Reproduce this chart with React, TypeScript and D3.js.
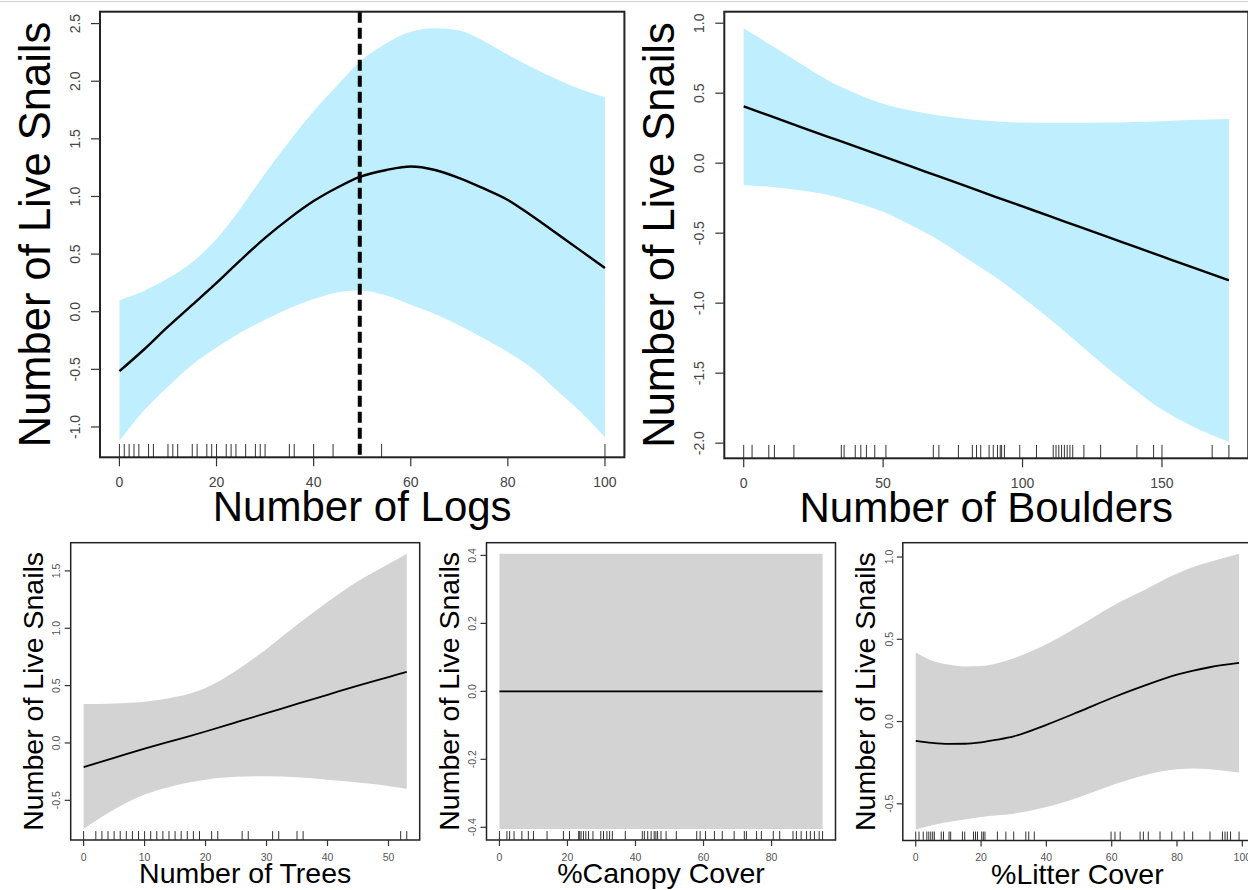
import React from "react";
import * as d3 from "d3";

// ---------- DATA ----------
// Number of Logs
const LOGS_X = [0, 5, 10, 15, 20, 25, 30, 35, 40, 45, 49.5, 55, 60, 65, 70, 75, 80, 85, 90, 95, 100];
const LOGS_FIT = [-0.516, -0.33, -0.13, 0.06, 0.25, 0.45, 0.64, 0.81, 0.96, 1.08, 1.17, 1.23, 1.26, 1.23, 1.16, 1.07, 0.97, 0.83, 0.68, 0.53, 0.38];
const LOGS_UPPER = [0.1, 0.18, 0.29, 0.43, 0.63, 0.9, 1.2, 1.48, 1.74, 1.97, 2.17, 2.33, 2.43, 2.46, 2.44, 2.35, 2.23, 2.12, 2.02, 1.93, 1.86];
const LOGS_LOWER = [-1.12, -0.86, -0.65, -0.46, -0.31, -0.18, -0.07, 0.03, 0.11, 0.17, 0.185, 0.14, 0.06, -0.02, -0.12, -0.23, -0.35, -0.49, -0.68, -0.87, -1.09];
const LOGS_RUG = [0, 1, 2, 3, 4, 6, 7, 10, 11, 12, 15, 16, 18, 19, 20, 22, 23, 24, 26, 28, 29, 30, 35, 36, 40, 44, 54, 100];
const LOGS_THRESHOLD = 49.5;
const LOGS_XTICKS = [0, 20, 40, 60, 80, 100];
const LOGS_YTICKS = [-1, -0.5, 0, 0.5, 1, 1.5, 2, 2.5];

// Number of Boulders
const BOULDERS_X = [0, 10, 20, 30, 40, 50, 60, 70, 80, 90, 100, 110, 120, 130, 140, 150, 160, 174];
const BOULDERS_FIT = [0.405, 0.334, 0.262, 0.19, 0.12, 0.048, -0.023, -0.095, -0.166, -0.238, -0.309, -0.38, -0.452, -0.523, -0.595, -0.666, -0.737, -0.837];
const BOULDERS_UPPER = [0.964, 0.84, 0.716, 0.595, 0.5, 0.425, 0.376, 0.34, 0.316, 0.3, 0.29, 0.288, 0.288, 0.29, 0.295, 0.3, 0.308, 0.316];
const BOULDERS_LOWER = [-0.158, -0.17, -0.194, -0.226, -0.28, -0.347, -0.444, -0.55, -0.68, -0.81, -0.96, -1.117, -1.286, -1.456, -1.614, -1.76, -1.87, -1.99];
const BOULDERS_RUG = [0, 3, 9, 11, 18, 35, 36, 40, 42, 44, 47, 51, 68, 70, 77, 82, 83.5, 85, 88, 89.5, 91, 92, 92.5, 93.5, 99, 105, 111, 112, 113, 114, 115, 116, 117, 118, 122, 128, 141, 147, 150, 168, 174];
const BOULDERS_XTICKS = [0, 50, 100, 150];
const BOULDERS_YTICKS = [-2, -1.5, -1, -0.5, 0, 0.5, 1];

// Number of Trees
const TREES_X = [0, 5, 10, 15, 20, 25, 30, 35, 40, 45, 50, 53];
const TREES_FIT = [-0.21, -0.13, -0.05, 0.025, 0.1, 0.18, 0.26, 0.34, 0.42, 0.5, 0.575, 0.62];
const TREES_UPPER = [0.34, 0.345, 0.36, 0.4, 0.48, 0.63, 0.82, 1.03, 1.23, 1.41, 1.56, 1.65];
const TREES_LOWER = [-0.75, -0.58, -0.45, -0.37, -0.32, -0.295, -0.29, -0.3, -0.32, -0.345, -0.375, -0.4];
const TREES_RUG = [0, 2, 3, 4, 5, 6, 7, 8, 9, 10, 11, 12, 13, 14, 15, 16, 17, 18, 19, 21, 22, 26, 27, 31, 32, 35, 36, 52, 53];
const TREES_XTICKS = [0, 10, 20, 30, 40, 50];
const TREES_YTICKS = [-0.5, 0, 0.5, 1, 1.5];

// %Canopy Cover
const CANOPY_X = [0, 95];
const CANOPY_FIT = [0, 0];
const CANOPY_UPPER = [0.405, 0.405];
const CANOPY_LOWER = [-0.405, -0.405];
const CANOPY_RUG = [0, 2.2, 3, 4.3, 6.6, 8.5, 10, 14, 18.8, 20.6, 23.3, 23.6, 24, 24.7, 25.4, 26.2, 27.5, 29.8, 30.6, 31.6, 32.4, 33.2, 37, 42, 42.6, 43.6, 44.6, 45.5, 46, 46.5, 47.5, 49, 52, 58, 59, 60.6, 63.2, 65.5, 69, 72, 72.6, 75.6, 77, 80.5, 82.4, 86.3, 87.3, 88.7, 90.3, 91.4, 92.6, 94, 95];
const CANOPY_XTICKS = [0, 20, 40, 60, 80];
const CANOPY_YTICKS = [-0.4, -0.2, 0, 0.2, 0.4];

// %Litter Cover
const LITTER_X = [0, 5, 10, 15, 20, 25, 30, 40, 50, 60, 70, 80, 85, 90, 99];
const LITTER_FIT = [-0.118, -0.13, -0.136, -0.135, -0.126, -0.11, -0.09, -0.02, 0.06, 0.143, 0.218, 0.285, 0.31, 0.33, 0.356];
const LITTER_UPPER = [0.42, 0.37, 0.346, 0.335, 0.338, 0.355, 0.385, 0.47, 0.58, 0.7, 0.8, 0.9, 0.94, 0.97, 1.02];
const LITTER_LOWER = [-0.656, -0.63, -0.61, -0.595, -0.58, -0.57, -0.56, -0.52, -0.46, -0.387, -0.326, -0.29, -0.285, -0.29, -0.31];
const LITTER_RUG = [0, 1, 2.3, 3.4, 4, 4.6, 5.2, 5.7, 7.8, 8.5, 10.2, 10.7, 14.3, 15, 17.7, 18.3, 18.9, 20.2, 20.7, 21.2, 25, 27.6, 30, 33.7, 34.6, 36.3, 59.8, 61, 62.6, 68.7, 69.7, 71.2, 74.8, 78.4, 82.2, 84.8, 90.1, 93.9, 94.7, 95.4, 96.4, 99];
const LITTER_XTICKS = [0, 20, 40, 60, 80, 100];
const LITTER_YTICKS = [-0.5, 0, 0.5, 1];

const Y_LABEL = "Number of Live Snails";
const FONT = "'Liberation Sans', Arial, Helvetica, sans-serif";

type Box = { x0: number; x1: number; y0: number; y1: number };
type Style = {
  tickFont: number; tickLen: number; yTickOff: number; xTickBase: number;
  labFont: number; yLabFont: number; xLabBase: number; yLabOff: number;
  boxW: number; lineW: number; tickColor: string;
};

const BIG: Style = { tickFont: 14, tickLen: 9, yTickOff: 25, xTickBase: 29.5, labFont: 42, yLabFont: 43.5, xLabBase: 64, yLabOff: 50, boxW: 2, lineW: 2.4, tickColor: "#444" };
const SMALL: Style = { tickFont: 10.5, tickLen: 6, yTickOff: 14, xTickBase: 20.5, labFont: 28.5, yLabFont: 28.5, xLabBase: 43, yLabOff: 28, boxW: 1.5, lineW: 1.8, tickColor: "#555" };

function rExtend([a, b]: [number, number]): [number, number] {
  const r = b - a;
  return [a - 0.04 * r, b + 0.04 * r];
}

type PanelProps = {
  box: Box; st: Style; xs: number[]; fit: number[]; upper: number[]; lower: number[];
  rug: number[]; xTicks: number[]; yTicks: number[]; xLabel: string; fill: string; vline?: number;
};

function Panel({ box, st, xs, fit, upper, lower, rug, xTicks, yTicks, xLabel, fill, vline }: PanelProps) {
  const xDom = rExtend(d3.extent(xs) as [number, number]);
  const yDom = rExtend([d3.min(lower) as number, d3.max(upper) as number]);
  const x = d3.scaleLinear().domain(xDom).range([box.x0, box.x1]);
  const y = d3.scaleLinear().domain(yDom).range([box.y1, box.y0]);
  const idx = xs.map((_, i) => i);
  const area = d3.area<number>().x((i) => x(xs[i])).y0((i) => y(lower[i])).y1((i) => y(upper[i])).curve(d3.curveMonotoneX);
  const line = d3.line<number>().x((i) => x(xs[i])).y((i) => y(fit[i])).curve(d3.curveMonotoneX);
  const rugLen = 0.03 * (box.y1 - box.y0);
  const cy = (box.y0 + box.y1) / 2;
  const cx = (box.x0 + box.x1) / 2;
  return (
    <g>
      <path d={area(idx) || ""} fill={fill} stroke="none" />
      <path d={line(idx) || ""} fill="none" stroke="#000" strokeWidth={st.lineW} />
      {rug.map((v, i) => (
        <line key={"r" + i} x1={x(v)} x2={x(v)} y1={box.y1} y2={box.y1 - rugLen} stroke="#333" strokeWidth={1} />
      ))}
      {vline !== undefined && (
        <line x1={x(vline)} x2={x(vline)} y1={box.y0} y2={box.y1} stroke="#000" strokeWidth={4} strokeDasharray="11 5" />
      )}
      <rect x={box.x0} y={box.y0} width={box.x1 - box.x0} height={box.y1 - box.y0} fill="none" stroke="#222" strokeWidth={st.boxW} />
      {xTicks.map((t) => (
        <g key={"xt" + t}>
          <line x1={x(t)} x2={x(t)} y1={box.y1} y2={box.y1 + st.tickLen} stroke="#333" strokeWidth={1.2} />
          <text x={x(t)} y={box.y1 + st.xTickBase} fontSize={st.tickFont} textAnchor="middle" fill={st.tickColor} fontFamily={FONT}>
            {String(t)}
          </text>
        </g>
      ))}
      {yTicks.map((t) => (
        <g key={"yt" + t}>
          <line x1={box.x0 - st.tickLen} x2={box.x0} y1={y(t)} y2={y(t)} stroke="#333" strokeWidth={1.2} />
          <text
            transform={`translate(${box.x0 - st.yTickOff},${y(t)}) rotate(-90)`}
            dy="0.36em"
            fontSize={st.tickFont}
            textAnchor="middle"
            fill={st.tickColor}
            fontFamily={FONT}
          >
            {t.toFixed(1)}
          </text>
        </g>
      ))}
      <text x={cx} y={box.y1 + st.xLabBase} fontSize={st.labFont} textAnchor="middle" fill="#000" fontFamily={FONT}>
        {xLabel}
      </text>
      <text
        transform={`translate(${box.x0 - st.yLabOff},${cy}) rotate(-90)`}
        fontSize={st.yLabFont}
        textAnchor="middle"
        fill="#000"
        fontFamily={FONT}
      >
        {Y_LABEL}
      </text>
    </g>
  );
}

export default function App() {
  const blue = "#BFEFFF";
  const grey = "#D3D3D3";
  return (
    <svg
      width={1248}
      height={890}
      viewBox="0 0 1248 890"
      style={{ position: "absolute", left: 0, top: 0, background: "#fff", overflow: "hidden" }}
    >
      <rect x={0} y={0} width={1248} height={890} fill="#fff" />
      <line x1={0} x2={1248} y1={1.5} y2={1.5} stroke="#d0d0d0" strokeWidth={1} />
      <Panel box={{ x0: 100, x1: 624.4, y0: 11.7, y1: 457.3 }} st={BIG} xs={LOGS_X} fit={LOGS_FIT} upper={LOGS_UPPER} lower={LOGS_LOWER}
        rug={LOGS_RUG} xTicks={LOGS_XTICKS} yTicks={LOGS_YTICKS} xLabel="Number of Logs" fill={blue} vline={LOGS_THRESHOLD} />
      <Panel box={{ x0: 724.3, x1: 1248.3, y0: 11.7, y1: 458.3 }} st={BIG} xs={BOULDERS_X} fit={BOULDERS_FIT} upper={BOULDERS_UPPER} lower={BOULDERS_LOWER}
        rug={BOULDERS_RUG} xTicks={BOULDERS_XTICKS} yTicks={BOULDERS_YTICKS} xLabel="Number of Boulders" fill={blue} />
      <Panel box={{ x0: 70.7, x1: 419.7, y0: 542.7, y1: 840 }} st={SMALL} xs={TREES_X} fit={TREES_FIT} upper={TREES_UPPER} lower={TREES_LOWER}
        rug={TREES_RUG} xTicks={TREES_XTICKS} yTicks={TREES_YTICKS} xLabel="Number of Trees" fill={grey} />
      <Panel box={{ x0: 486.5, x1: 835.5, y0: 542.7, y1: 840 }} st={SMALL} xs={CANOPY_X} fit={CANOPY_FIT} upper={CANOPY_UPPER} lower={CANOPY_LOWER}
        rug={CANOPY_RUG} xTicks={CANOPY_XTICKS} yTicks={CANOPY_YTICKS} xLabel="%Canopy Cover" fill={grey} />
      <Panel box={{ x0: 902.8, x1: 1252, y0: 542.7, y1: 840.5 }} st={SMALL} xs={LITTER_X} fit={LITTER_FIT} upper={LITTER_UPPER} lower={LITTER_LOWER}
        rug={LITTER_RUG} xTicks={LITTER_XTICKS} yTicks={LITTER_YTICKS} xLabel="%Litter Cover" fill={grey} />
    </svg>
  );
}
